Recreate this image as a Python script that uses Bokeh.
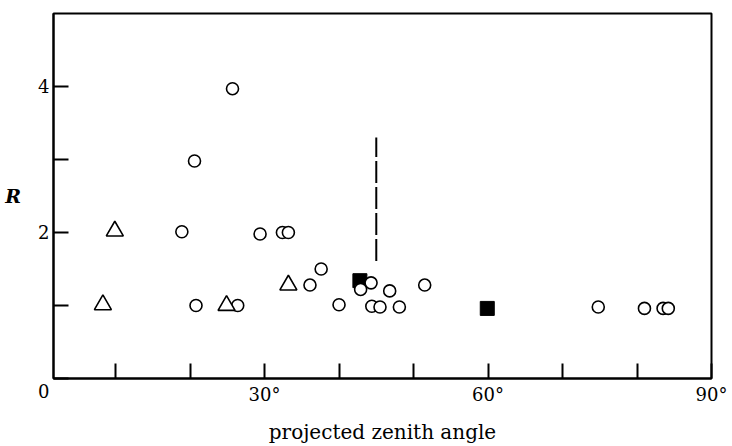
from bokeh.plotting import figure
from bokeh.models import FixedTicker, Range1d
from bokeh.embed import file_html
from bokeh.resources import INLINE

# open circles
circle_x = [25.7, 20.6, 18.9, 20.8, 26.4, 29.4, 32.4, 33.2, 36.1, 37.6, 42.9, 44.3,
            46.8, 51.5, 40.0, 44.4, 45.5, 48.1, 74.8, 81.0, 83.5, 84.2]
circle_y = [3.97, 2.98, 2.01, 1.00, 1.00, 1.98, 2.00, 2.00, 1.28, 1.50, 1.22, 1.31,
            1.20, 1.28, 1.01, 0.99, 0.98, 0.98, 0.98, 0.96, 0.96, 0.96]
# open triangles
tri_x = [9.9, 8.3, 24.9, 33.2]
tri_y = [2.02, 1.01, 1.00, 1.28]
# filled squares
sq_x = [42.8, 59.9]
sq_y = [1.34, 0.96]
# vertical dashed line
dash_x = [45.0, 45.0]
dash_y = [1.61, 3.30]

x_major = [30, 60, 90]
x_minor = [10, 20, 40, 50, 70, 80]
x_labels = {30: "30°", 60: "60°", 90: "90°"}
y_major = [0, 2, 4]
y_minor = [1, 3]
y_labels = {0: "\n0", 2: "2", 4: "4"}

FONT = "DejaVu Serif"

p = figure(width=732, height=446, output_backend="svg", toolbar_location=None,
           x_range=Range1d(1.67, 90), y_range=Range1d(0, 5),
           min_border_left=53, min_border_right=21, min_border_top=13,
           min_border_bottom=63)
p.background_fill_color = "white"
p.border_fill_color = "white"
p.outline_line_color = "black"
p.outline_line_width = 2
p.xgrid.visible = False
p.ygrid.visible = False

xa = p.xaxis[0]
xa.ticker = FixedTicker(ticks=x_major, minor_ticks=x_minor)
xa.major_label_overrides = x_labels
xa.axis_line_width = 2
xa.major_tick_in = 15
xa.major_tick_out = 0
xa.minor_tick_in = 15
xa.minor_tick_out = 0
xa.major_tick_line_width = 2
xa.minor_tick_line_width = 2
xa.major_label_text_font = FONT
xa.major_label_text_font_size = "18px"
xa.major_label_text_color = "black"
xa.major_label_standoff = 5
xa.axis_label = "projected zenith angle"
xa.axis_label_text_font = FONT
xa.axis_label_text_font_style = "normal"
xa.axis_label_text_font_size = "20px"
xa.axis_label_text_color = "black"
xa.axis_label_standoff = 12

ya = p.yaxis[0]
ya.ticker = FixedTicker(ticks=y_major, minor_ticks=y_minor)
ya.major_label_overrides = y_labels
ya.axis_line_width = 2
ya.major_tick_in = 15
ya.major_tick_out = 0
ya.minor_tick_in = 15
ya.minor_tick_out = 0
ya.major_tick_line_width = 2
ya.minor_tick_line_width = 2
ya.major_label_text_font = FONT
ya.major_label_text_font_size = "18px"
ya.major_label_text_color = "black"
ya.major_label_standoff = 4
ya.major_label_orientation = "horizontal"
ya.axis_label = "R"
ya.axis_label_text_font = FONT
ya.axis_label_text_font_style = "bold italic"
ya.axis_label_text_font_size = "19px"
ya.axis_label_text_color = "black"
ya.axis_label_orientation = "horizontal"
ya.axis_label_standoff = 14

p.line(dash_x, dash_y, line_color="black", line_width=2, line_dash="22 4")

p.scatter(sq_x, sq_y, marker="square", size=14, fill_color="black",
          line_color="black")
p.scatter(circle_x, circle_y, marker="circle", size=12, fill_color="white",
          line_color="black", line_width=1.6)
p.scatter(tri_x, tri_y, marker="triangle", size=17, fill_color="white",
          line_color="black", line_width=1.6)

open("out.html", "w").write(file_html(p, INLINE))
